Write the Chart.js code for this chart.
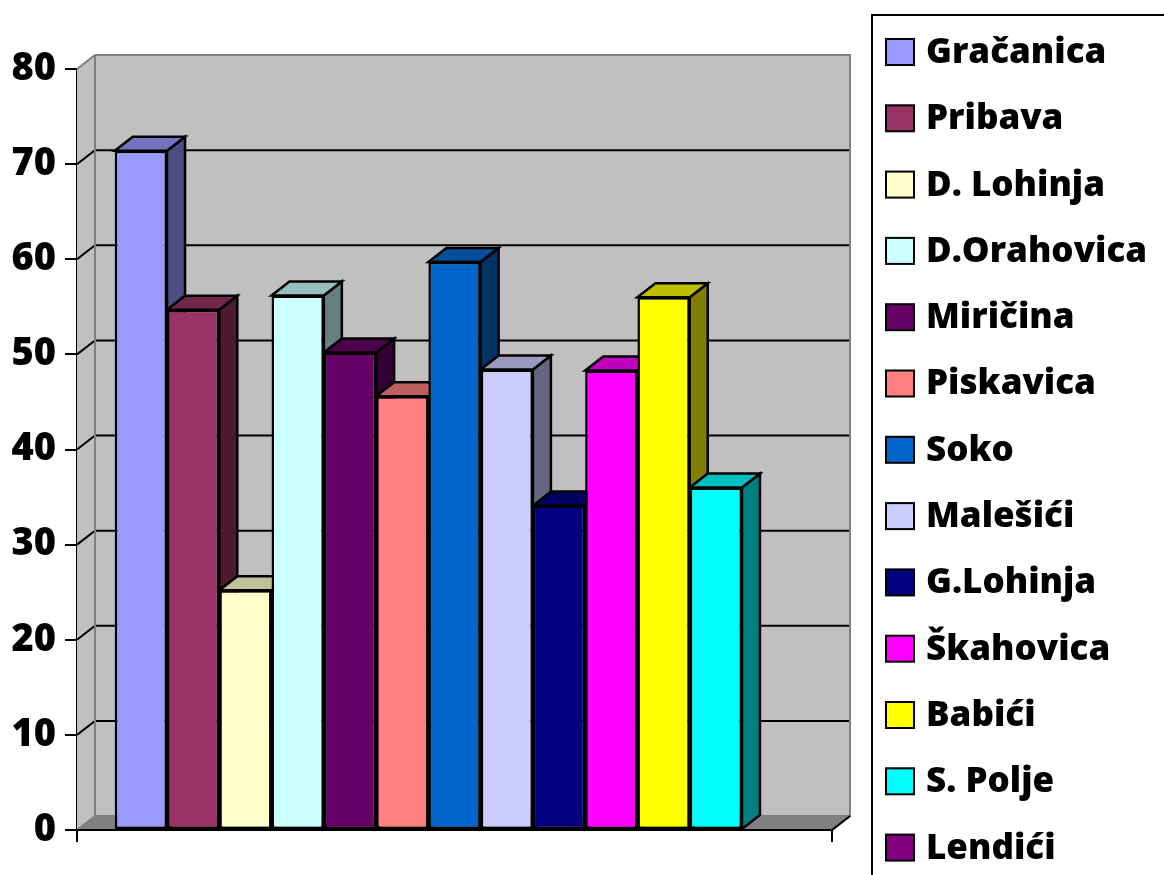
<!DOCTYPE html>
<html>
<head>
<meta charset="utf-8">
<script src="https://cdn.jsdelivr.net/npm/chart.js@4.4.1/dist/chart.umd.min.js"></script>
<style>
  html, body { margin: 0; padding: 0; background: #fff; }
  #wrap { width: 1164px; height: 875px; position: relative; }
</style>
</head>
<body>
<div id="wrap"><canvas id="chart" width="1164" height="875"></canvas></div>
<script>
const CATEGORIES = [""];
const SERIES_NAMES = [
  "Gračanica", "Pribava", "D. Lohinja", "D.Orahovica", "Miričina", "Piskavica",
  "Soko", "Malešići", "G.Lohinja", "Škahovica", "Babići", "S. Polje", "Lendići"
];
const SERIES_VALUES = [71.4, 54.7, 25.2, 56.2, 50.2, 45.6, 59.7, 48.4, 34.1, 48.3, 56.0, 36.0, null];
const SERIES_COLORS = [
  "#9999FF", "#993366", "#FFFFCC", "#CCFFFF", "#660066", "#FF8080",
  "#0066CC", "#CCCCFF", "#000080", "#FF00FF", "#FFFF00", "#00FFFF", "#800080"
];
const Y_MIN  = 0;
const Y_MAX  = 80;
const Y_STEP = 10;

const DEPTH_X = 18;
const DEPTH_Y = -14;
const FONT    = "'Open Sans', Lato, sans-serif";

/* ── Helpers ────────────────────────────────────────── */
function shade(hex, f) {
  const n = parseInt(hex.slice(1), 16);
  const r = Math.round(((n >> 16) & 255) * f);
  const g = Math.round(((n >> 8) & 255) * f);
  const b = Math.round((n & 255) * f);
  return `rgb(${r},${g},${b})`;
}

function poly(ctx, pts, fill, stroke, lw) {
  ctx.beginPath();
  ctx.moveTo(pts[0][0], pts[0][1]);
  for (let i = 1; i < pts.length; i++) ctx.lineTo(pts[i][0], pts[i][1]);
  ctx.closePath();
  if (fill) { ctx.fillStyle = fill; ctx.fill(); }
  if (stroke) { ctx.strokeStyle = stroke; ctx.lineWidth = lw; ctx.stroke(); }
}

/* ── Walls, floor, 3D faces ─────────────────────────── */
const box3d = {
  id: "box3d",
  beforeDatasetsDraw(chart) {
    const { ctx, chartArea: a, scales } = chart;
    const y = scales.y;
    const L = a.left, R = a.right, T = a.top, B = a.bottom;
    ctx.save();

    // back wall
    poly(ctx, [[L + DEPTH_X, T + DEPTH_Y], [R + DEPTH_X, T + DEPTH_Y],
               [R + DEPTH_X, B + DEPTH_Y], [L + DEPTH_X, B + DEPTH_Y]], "#C0C0C0");
    // left wall
    poly(ctx, [[L, T], [L + DEPTH_X, T + DEPTH_Y], [L + DEPTH_X, B + DEPTH_Y], [L, B]], "#C0C0C0");
    // floor
    poly(ctx, [[L, B], [L + DEPTH_X, B + DEPTH_Y], [R + DEPTH_X, B + DEPTH_Y], [R, B]], "#808080");

    // gridlines on back wall + diagonals on left wall
    ctx.strokeStyle = "#000";
    ctx.lineWidth = 2;
    for (let v = Y_MIN + Y_STEP; v <= Y_MAX - Y_STEP; v += Y_STEP) {
      const py = y.getPixelForValue(v);
      ctx.beginPath();
      ctx.moveTo(L, py);
      ctx.lineTo(L + DEPTH_X, py + DEPTH_Y);
      ctx.lineTo(R + DEPTH_X, py + DEPTH_Y);
      ctx.stroke();
    }

    // wall edges
    ctx.strokeStyle = "#808080";
    ctx.lineWidth = 2;
    ctx.beginPath();
    ctx.moveTo(L, T);
    ctx.lineTo(L + DEPTH_X, T + DEPTH_Y);
    ctx.lineTo(R + DEPTH_X, T + DEPTH_Y);
    ctx.lineTo(R + DEPTH_X, B + DEPTH_Y);
    ctx.lineTo(R, B);
    ctx.moveTo(L + DEPTH_X, T + DEPTH_Y);
    ctx.lineTo(L + DEPTH_X, B + DEPTH_Y);
    ctx.lineTo(L, B);
    ctx.moveTo(L + DEPTH_X, B + DEPTH_Y);
    ctx.lineTo(R + DEPTH_X, B + DEPTH_Y);
    ctx.stroke();

    // side + top faces of every bar, left to right
    chart.data.datasets.forEach((ds, i) => {
      const meta = chart.getDatasetMeta(i);
      meta.data.forEach((bar, j) => {
        if (ds.data[j] == null) return;
        const { x, y: top, base, width } = bar.getProps(["x", "y", "base", "width"], true);
        const x0 = x - width / 2, x1 = x + width / 2;
        const col = SERIES_COLORS[i];
        poly(ctx, [[x1, top], [x1 + DEPTH_X, top + DEPTH_Y], [x1 + DEPTH_X, base + DEPTH_Y], [x1, base]],
             shade(col, 0.5), "#000", 2.5);
        poly(ctx, [[x0, top], [x0 + DEPTH_X, top + DEPTH_Y], [x1 + DEPTH_X, top + DEPTH_Y], [x1, top]],
             shade(col, 0.75), "#000", 2.5);
      });
    });
    ctx.restore();
  },
  afterDatasetsDraw(chart) {
    const { ctx, chartArea: a } = chart;
    ctx.save();
    ctx.strokeStyle = "#000";
    ctx.lineWidth = 2;
    ctx.beginPath();
    ctx.moveTo(a.left, a.bottom);
    ctx.lineTo(a.right, a.bottom);
    ctx.moveTo(a.left, a.bottom);
    ctx.lineTo(a.left, a.bottom + 12);
    ctx.moveTo(a.right, a.bottom);
    ctx.lineTo(a.right, a.bottom + 12);
    ctx.moveTo(a.right, a.bottom);
    ctx.lineTo(a.right + DEPTH_X, a.bottom + DEPTH_Y);
    ctx.stroke();
    ctx.restore();
  }
};

/* ── Legend ─────────────────────────────────────────── */
const boxLegend = {
  id: "boxLegend",
  afterDraw(chart) {
    const ctx = chart.ctx;
    const left = 872, top = 15, rowH = 66.3, firstY = 52;
    ctx.save();
    ctx.strokeStyle = "#000";
    ctx.lineWidth = 2;
    ctx.strokeRect(left, top, 400, 1000);
    ctx.font = `800 35px ${FONT}`;
    ctx.textBaseline = "middle";
    chart.data.datasets.forEach((ds, i) => {
      const cy = firstY + i * rowH;
      ctx.fillStyle = ds.backgroundColor;
      ctx.fillRect(886, cy - 13, 28, 26);
      ctx.strokeRect(886, cy - 13, 28, 26);
      ctx.fillStyle = "#000";
      ctx.fillText(ds.label, 926, cy + 1);
    });
    ctx.restore();
  }
};

/* ── Chart ──────────────────────────────────────────── */
const datasets = SERIES_NAMES.map((name, i) => ({
  label: name,
  data: [SERIES_VALUES[i]],
  backgroundColor: SERIES_COLORS[i],
  borderColor: "#000",
  borderWidth: 2.5,
  borderSkipped: false,
  categoryPercentage: 0.9,
  barPercentage: 1.0,
}));

new Chart(document.getElementById("chart"), {
  type: "bar",
  data: { labels: CATEGORIES, datasets },
  plugins: [box3d, boxLegend],
  options: {
    responsive: false,
    animation: false,
    devicePixelRatio: 1,
    layout: { padding: { top: 69, right: 332, bottom: 45, left: 0 } },
    plugins: {
      legend: { display: false },
      tooltip: { enabled: false },
    },
    scales: {
      x: { display: false },
      y: {
        min: Y_MIN,
        max: Y_MAX,
        afterFit: (s) => { s.width = 77; },
        ticks: {
          stepSize: Y_STEP,
          color: "#000",
          padding: 9,
          font: { family: FONT, size: 38, weight: 800 },
        },
        grid: {
          drawOnChartArea: false,
          drawTicks: true,
          tickLength: 12,
          color: "#000",
          lineWidth: 2,
        },
        border: { display: true, color: "#000", width: 2 },
      }
    }
  }
});
</script>
</body>
</html>
